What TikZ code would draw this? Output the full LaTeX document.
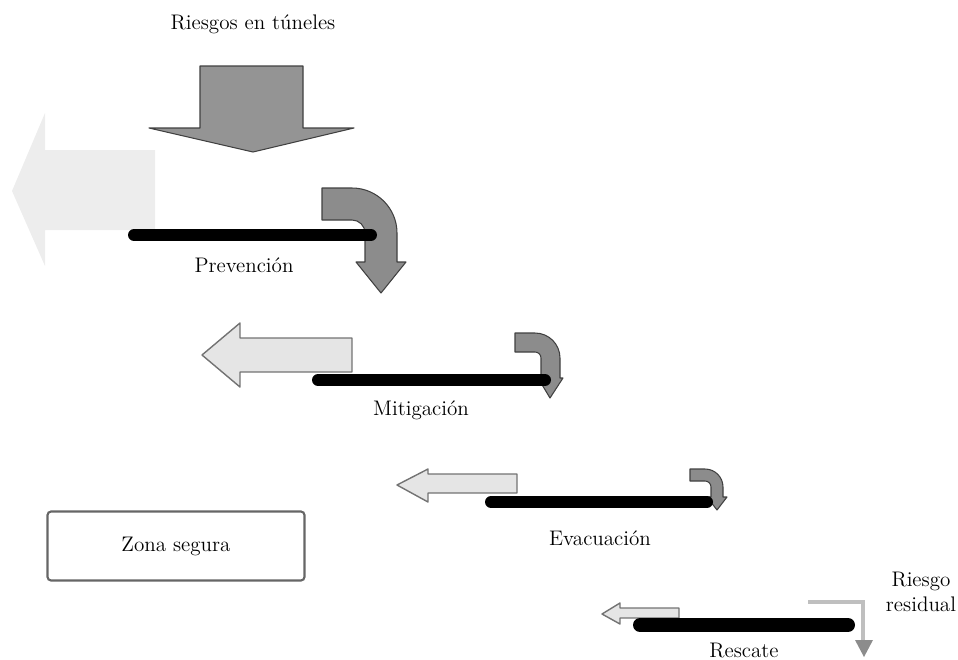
\documentclass[tikz,border=0pt]{standalone}
\usepackage{tikz}
\usetikzlibrary{positioning}

\begin{document}
\begin{tikzpicture}[
    x=0.02cm, y=0.02cm,
    lbl/.style={font=\fontsize{12}{14}\selectfont, align=center, inner sep=1pt},
    bar/.style={line width=0.24cm, line cap=round, draw=black},
    bent/.style={fill=black!45, draw=black!75, line width=0.6pt, line join=round},
    back/.style={fill=black!10, draw=black!55, line width=0.8pt, line join=round},
    safebox/.style={draw=black!60, line width=1.2pt, rounded corners=2pt, minimum width=5.14cm, minimum height=1.38cm, font=\fontsize{12}{14}\selectfont}
]
\useasboundingbox (0,0) rectangle (958,-660);

% entrada de riesgos
\node[lbl] (title) at (253,-24) {Riesgos en túneles};
\draw[fill=black!42, draw=black!75, line width=0.6pt, line join=round]
  (200,-66) -- (303,-66) -- (303,-128) -- (354,-128) -- (253,-152)
  -- (149,-128) -- (200,-128) -- cycle;

% prevencion
\fill[black!7] (155,-150) -- (45,-150) -- (45,-113) -- (12,-191)
  -- (45,-266) -- (45,-230) -- (155,-230) -- cycle;
\draw[bent] (322,-188) -- (352,-188) arc (90:0:45) -- (397,-262) -- (406,-262)
  -- (381,-293) -- (356,-262) -- (365,-262) -- (365,-233) arc (0:90:13)
  -- (322,-220) -- cycle;
\draw[bar] (134,-235) -- (371,-235);
\node[lbl] (prev) at (244,-265) {Prevención};

% mitigacion
\draw[back] (352,-338) -- (240,-338) -- (240,-323) -- (202,-355)
  -- (240,-387) -- (240,-372) -- (352,-372) -- cycle;
\draw[bent] (515,-333) -- (535,-333) arc (90:0:25) -- (560,-378) -- (563,-378)
  -- (550,-398) -- (538,-378) -- (541,-378) -- (541,-358) arc (0:90:6)
  -- (515,-352) -- cycle;
\draw[bar] (318,-380) -- (545,-380);
\node[lbl] (mit) at (421,-410) {Mitigación};

% evacuacion
\draw[back] (517,-474) -- (428,-474) -- (428,-469) -- (397,-485)
  -- (428,-502) -- (428,-493) -- (517,-493) -- cycle;
\draw[bent] (690,-469) -- (705,-469) arc (90:0:18) -- (723,-497) -- (727,-497)
  -- (717,-510) -- (707,-497) -- (711,-497) -- (711,-487) arc (0:90:6)
  -- (690,-481) -- cycle;
\draw[bar] (491,-502) -- (707,-502);
\node[lbl] (evac) at (600,-538) {Evacuación};

% zona segura
\node[safebox] (safe) at (176,-546) {Zona segura};

% rescate
\draw[back] (679,-608) -- (620,-608) -- (620,-603) -- (602,-614)
  -- (620,-624) -- (620,-618) -- (679,-618) -- cycle;
\draw[bar, line width=0.28cm] (640,-625) -- (848,-625);
\node[lbl] (resc) at (744,-651) {Rescate};

% riesgo residual
\node[lbl] (resid) at (921,-592) {Riesgo\\residual};
\draw[black!25, line width=2pt] (808,-602) -- (863,-602) -- (863,-641);
\fill[black!45] (855,-640) -- (873,-640) -- (864,-657) -- cycle;
\end{tikzpicture}
\end{document}
